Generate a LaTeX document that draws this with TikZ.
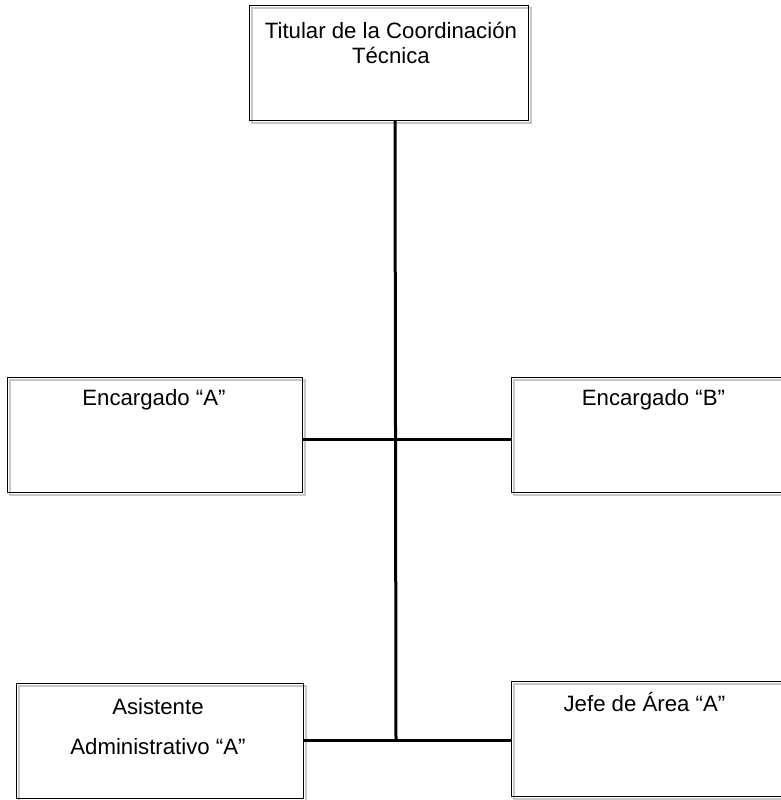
\documentclass[tikz,border=0pt]{standalone}
\usepackage{fontspec}
\setmainfont{Liberation Sans}
\begin{document}
\begin{tikzpicture}[x=1pt,y=-1pt,
  box/.style={draw=black, line width=0.9pt, rectangle, inner sep=0pt, anchor=north west},
  shadowbox/.style={draw=black!22, line width=1.2pt},
  conn/.style={draw=black, line width=3pt},
  lbl/.style={font=\fontsize{22.2}{25}\selectfont, inner sep=0pt, anchor=center, align=center}]
\useasboundingbox (0,0) rectangle (781,800);
% shadows
\draw[shadowbox] (252,8) rectangle (531,123);
\draw[shadowbox] (10,380) rectangle (305,495);
\draw[shadowbox] (514,380) rectangle (800,495);
\draw[shadowbox] (19,686) rectangle (306,801);
\draw[shadowbox] (514,684) rectangle (800,799);
% boxes
\node[box, minimum width=279pt, minimum height=115pt] (top) at (249,5) {};
\node[box, minimum width=295pt, minimum height=115pt] (ea) at (7,377) {};
\node[box, minimum width=280pt, minimum height=115pt] (eb) at (511,377) {};
\node[box, minimum width=287pt, minimum height=115pt] (aa) at (16,683) {};
\node[box, minimum width=280pt, minimum height=115pt] (ja) at (511,681) {};
% texts
\node[lbl] (ttop) at ([yshift=-37.5pt,xshift=2pt]top.north) {Titular de la Coordinación\\Técnica};
\node[lbl] (tea) at ([yshift=-23pt,xshift=-1pt]ea.north) {Encargado “A”};
\node[lbl] (teb) at ([yshift=-23pt,xshift=2pt]eb.north) {Encargado “B”};
\node[lbl] (taa1) at ([yshift=-24pt,xshift=-2pt]aa.north) {Asistente};
\node[lbl] (taa2) at ([yshift=-64pt,xshift=-2pt]aa.north) {Administrativo “A”};
\node[lbl] (tja) at ([yshift=-21pt,xshift=-7pt]ja.north) {Jefe de Área “A”};
% connectors
\coordinate (j1) at (395,439);
\coordinate (j2) at (396,740);
\draw[conn] (top.south -| j1) -- (j2);
\draw[conn] (ea.east |- j1) -- (eb.west |- j1);
\draw[conn] (aa.east |- j2) -- (ja.west |- j2);
\end{tikzpicture}
\end{document}
